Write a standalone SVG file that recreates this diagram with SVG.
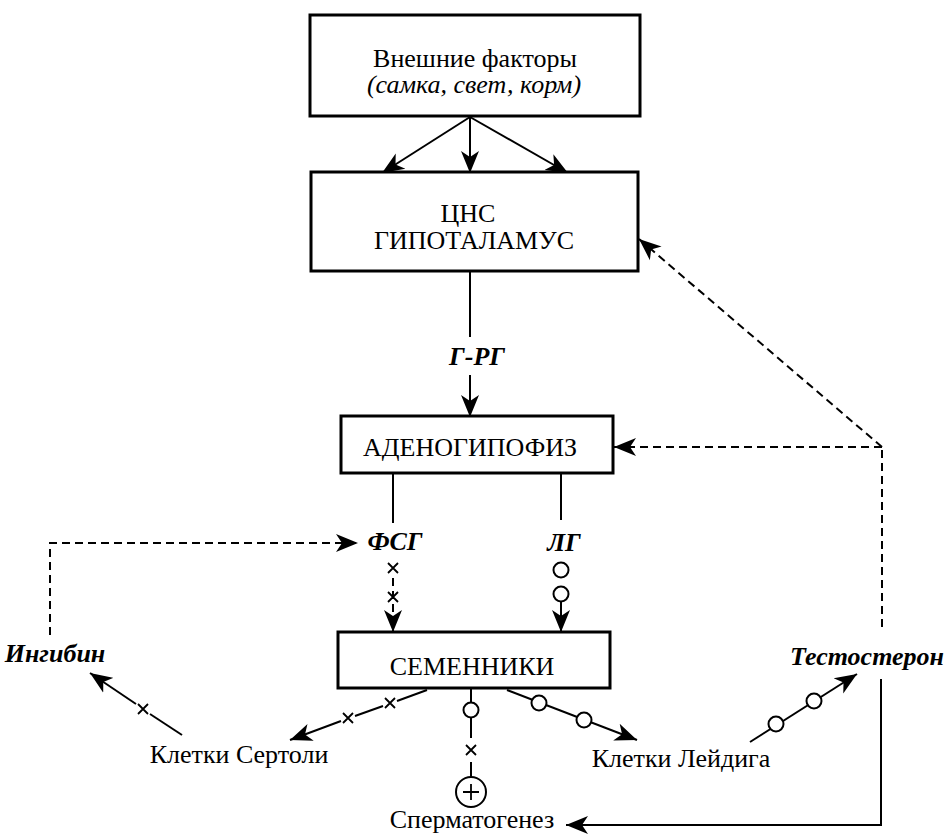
<svg xmlns="http://www.w3.org/2000/svg" width="948" height="834" viewBox="0 0 948 834">
<style>
  .box { fill: #fff; stroke: #000; stroke-width: 3; }
  .t { font-family: 'Liberation Serif', 'DejaVu Serif', 'Times New Roman', Times, serif; font-size: 26px; fill: #000; text-anchor: middle; }
  .it { font-style: italic; }
  .bi { font-style: italic; font-weight: bold; }
  .ln { stroke: #000; stroke-width: 2; fill: none; }
  .dash { stroke: #000; stroke-width: 2; fill: none; stroke-dasharray: 8 5; }
  .arr { marker-end: url(#ah); }
  .ring { fill: #fff; stroke: #000; stroke-width: 2; }
  .xm { stroke: #000; stroke-width: 1.8; }
</style>
<defs>
  <marker id="ah" markerUnits="userSpaceOnUse" markerWidth="24" markerHeight="20" viewBox="0 0 24 20" refX="22" refY="10" orient="auto">
    <path d="M0,1 L22,10 L0,19 L6,10 Z" fill="#000"/>
  </marker>
</defs>
<rect width="948" height="834" fill="#fff"/>

<g id="connectors">
  <line class="ln arr" x1="470" y1="117" x2="382" y2="173"/>
  <line class="ln arr" x1="470" y1="117" x2="470" y2="173"/>
  <line class="ln arr" x1="470" y1="117" x2="568" y2="173"/>
  <line class="ln" x1="470" y1="271" x2="470" y2="337"/>
  <line class="ln arr" x1="470" y1="375" x2="470" y2="417"/>
  <line class="ln" x1="393" y1="473" x2="393" y2="523"/>
  <line class="ln" x1="561" y1="473" x2="561" y2="520"/>
  <line class="dash arr" x1="393" y1="578" x2="393" y2="632"/>
  <path class="xm" d="M388,563 L398,573 M398,563 L388,573 M388,592 L398,602 M398,592 L388,602"/>
  <line class="ln arr" x1="561" y1="601" x2="561" y2="632"/>
  <circle class="ring" cx="561" cy="570" r="7.5"/>
  <circle class="ring" cx="561" cy="594" r="7.5"/>
  <polyline class="dash arr" points="50,635 50,543 358,543"/>
  <line class="dash" x1="882" y1="627" x2="882" y2="447"/>
  <line class="dash arr" x1="882" y1="447" x2="614" y2="447"/>
  <line class="dash arr" x1="882" y1="447" x2="639" y2="239"/>
  <line class="ln" x1="427" y1="690" x2="397" y2="701"/>
  <line class="ln" x1="383" y1="706" x2="355" y2="716"/>
  <line class="ln arr" x1="341" y1="721" x2="290" y2="740"/>
  <path class="xm" d="M385,698 L395,708 M395,698 L385,708 M343,713 L353,723 M353,713 L343,723"/>
  <line class="ln" x1="182" y1="735" x2="150" y2="714"/>
  <line class="ln arr" x1="136" y1="704" x2="90" y2="673"/>
  <path class="xm" d="M138,704 L148,714 M148,704 L138,714"/>
  <line class="ln arr" x1="507" y1="690" x2="637" y2="740"/>
  <circle class="ring" cx="539" cy="703" r="7.5"/>
  <circle class="ring" cx="584" cy="720" r="7.5"/>
  <line class="ln arr" x1="750" y1="742" x2="857" y2="674"/>
  <circle class="ring" cx="776" cy="724" r="7.5"/>
  <circle class="ring" cx="814" cy="701" r="7.5"/>
  <polyline class="ln arr" points="881,679 881,825 566,825"/>
  <line class="ln" x1="471" y1="688" x2="471" y2="738"/>
  <circle class="ring" cx="471" cy="710" r="7.5"/>
  <path class="xm" d="M466,745 L476,755 M476,745 L466,755"/>
  <line class="ln" x1="471" y1="762" x2="471" y2="777"/>
</g>

<g id="n-external">
  <rect class="box" x="310" y="15" width="330" height="101"/>
  <text class="t" x="475" y="67">Внешние факторы</text>
  <text class="t it" x="474" y="93">(самка, свет, корм)</text>
</g>
<g id="n-cns">
  <rect class="box" x="311" y="172" width="327" height="99"/>
  <text class="t" x="468" y="222">ЦНС</text>
  <text class="t" x="474" y="249">ГИПОТАЛАМУС</text>
</g>
<g id="n-grg">
  <text class="t bi" x="477" y="365">Г-РГ</text>
</g>
<g id="n-adeno">
  <rect class="box" x="341" y="416" width="272" height="57"/>
  <text class="t" x="470" y="456">АДЕНОГИПОФИЗ</text>
</g>
<g id="n-fsg">
  <text class="t bi" x="395" y="550">ФСГ</text>
</g>
<g id="n-lg">
  <text class="t bi" x="564" y="551">ЛГ</text>
</g>
<g id="n-testes">
  <rect class="box" x="338" y="632" width="272" height="56"/>
  <text class="t" x="472" y="675">СЕМЕННИКИ</text>
</g>
<g id="n-inhibin">
  <text class="t bi" x="55" y="662">Ингибин</text>
</g>
<g id="n-testosterone">
  <text class="t bi" x="944" y="665" style="text-anchor:end">Тестостерон</text>
</g>
<g id="n-sertoli">
  <text class="t" x="239" y="763">Клетки Сертоли</text>
</g>
<g id="n-leydig">
  <text class="t" x="681" y="767">Клетки Лейдига</text>
</g>
<g id="n-spermatogenesis">
  <circle class="ring" cx="471" cy="792" r="15"/>
  <path class="xm" d="M463,792 L479,792 M471,784 L471,800"/>
  <text class="t" x="472" y="828">Сперматогенез</text>
</g>
</svg>
